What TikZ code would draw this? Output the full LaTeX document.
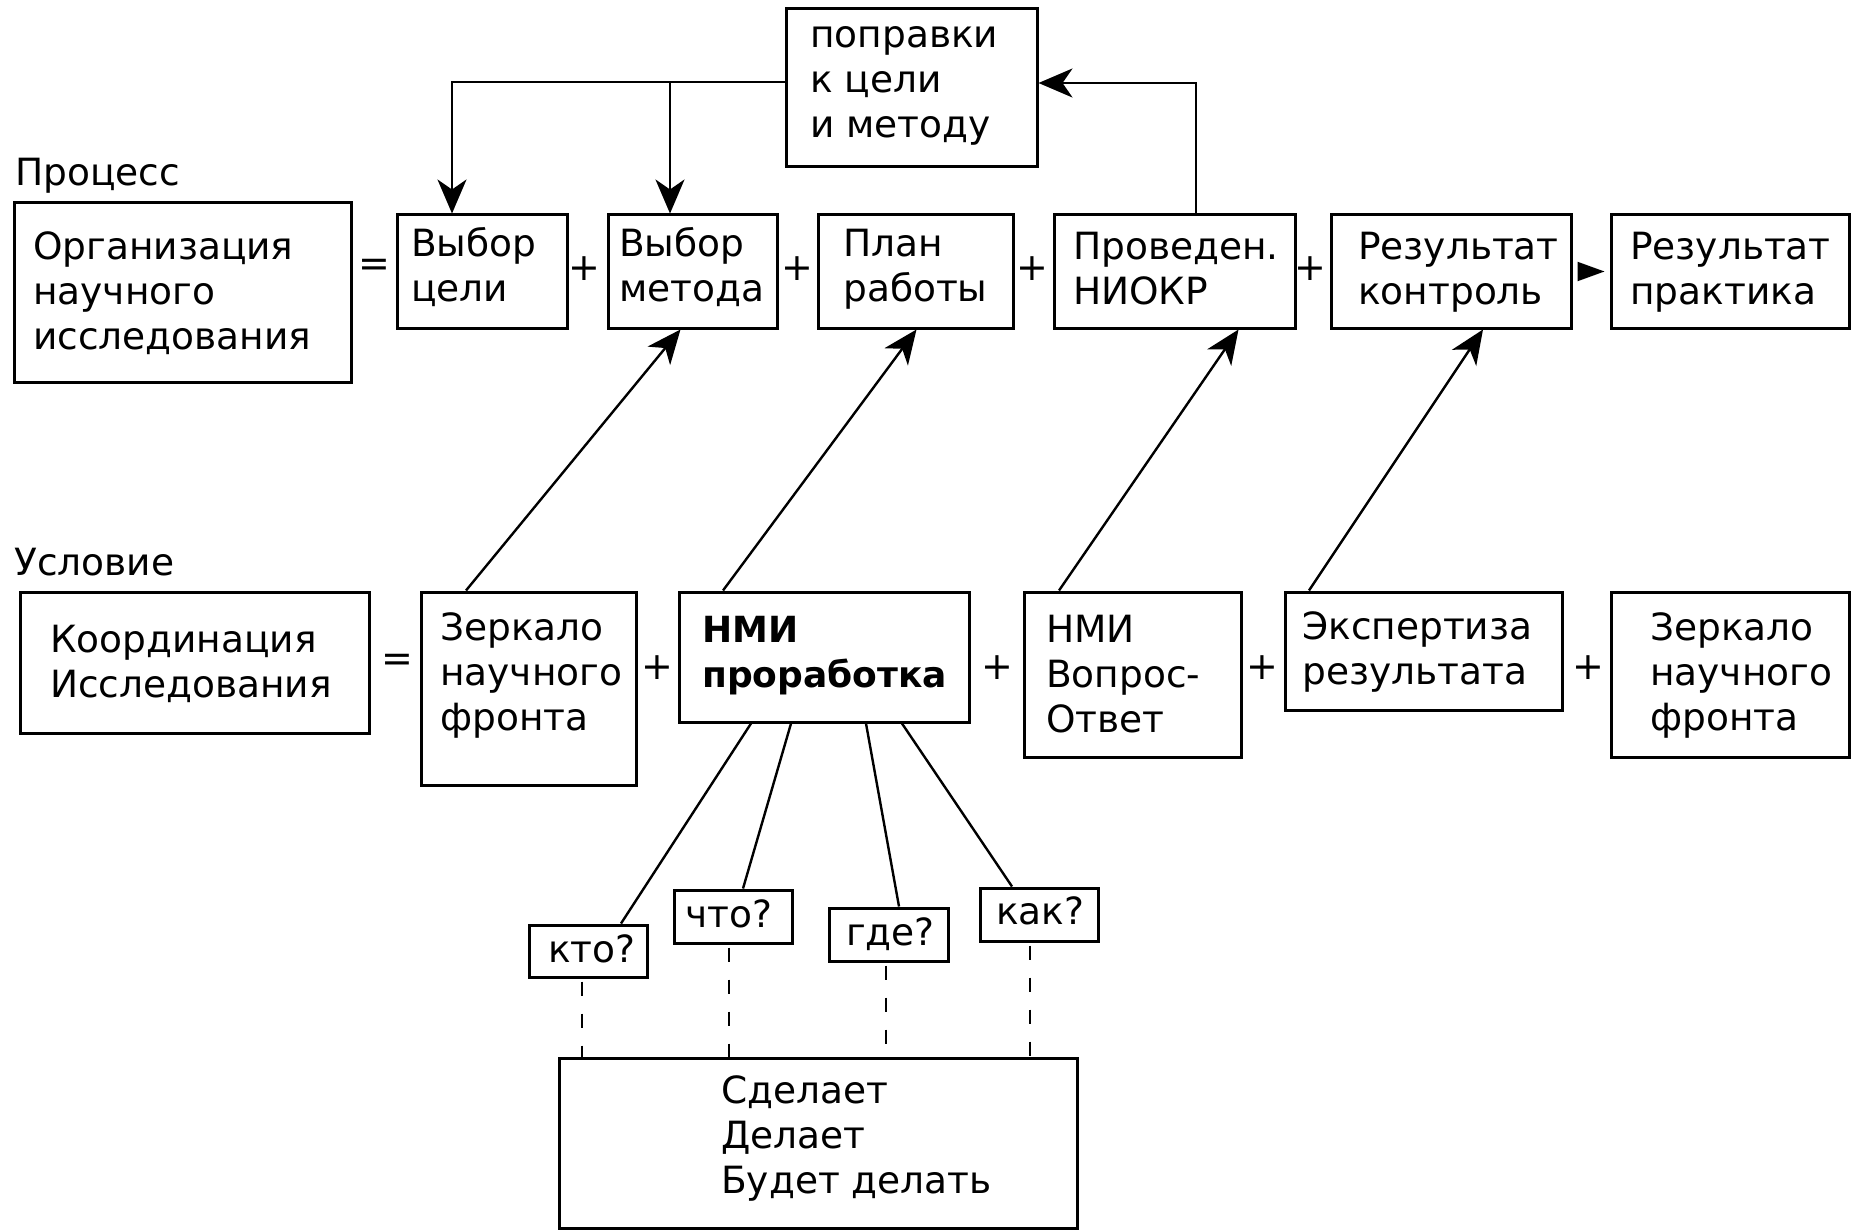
\documentclass[tikz,border=0pt]{standalone}
\usepackage{fontspec}
\setmainfont{DejaVu Sans}
\usetikzlibrary{arrows.meta}
\newcommand\ml[1]{\begin{tabular}[t]{@{}l@{}}#1\end{tabular}}
\begin{document}
\begin{tikzpicture}[x=1pt,y=-1pt,
  box/.style={draw, line width=3pt, inner sep=0pt},
  txt/.style={inner sep=0pt, anchor=base west, font=\fontsize{37.5}{45}\selectfont},
  btxt/.style={inner sep=0pt, anchor=base west, font=\fontsize{36}{45}\selectfont\bfseries},
  op/.style={inner sep=0pt, font=\fontsize{38}{45}\selectfont},
  arr/.style={line width=2.4pt, -{Stealth[length=34pt,width=29pt,inset=10pt]}},
  ln/.style={line width=2.4pt},
  dsh/.style={line width=2.4pt, dash pattern=on 14pt off 18pt}]
\fill[white] (0,0) rectangle (1851,1230);
\useasboundingbox (0,0) rectangle (1851,1230);
% boxes top row
\node[box, minimum width=251pt, minimum height=158pt] (pop) at (911.5,88) {};
\node[box, minimum width=337pt, minimum height=179pt] (org) at (182.5,292.5) {};
\node[box, minimum width=170pt, minimum height=113pt] (vc) at (482,271.5) {};
\node[box, minimum width=169pt, minimum height=113pt] (vm) at (692.5,271.5) {};
\node[box, minimum width=195pt, minimum height=113pt] (plan) at (915.5,271.5) {};
\node[box, minimum width=241pt, minimum height=113pt] (niokr) at (1174.5,271.5) {};
\node[box, minimum width=240pt, minimum height=113pt] (rk) at (1451,271.5) {};
\node[box, minimum width=238pt, minimum height=113pt] (rp) at (1730,271.5) {};
% boxes second row
\node[box, minimum width=349pt, minimum height=141pt] (koord) at (194.5,662.5) {};
\node[box, minimum width=215pt, minimum height=193pt] (zf1) at (528.5,688.5) {};
\node[box, minimum width=290pt, minimum height=130pt] (nmi) at (824,657) {};
\node[box, minimum width=217pt, minimum height=165pt] (nmivo) at (1132.5,674.5) {};
\node[box, minimum width=277pt, minimum height=118pt] (exp) at (1423.5,651) {};
\node[box, minimum width=238pt, minimum height=165pt] (zf2) at (1730,674.5) {};
% question boxes
\node[box, minimum width=118pt, minimum height=52pt] (kto) at (588,951) {};
\node[box, minimum width=118pt, minimum height=53pt] (chto) at (733,916.5) {};
\node[box, minimum width=119pt, minimum height=53pt] (gde) at (888.5,934.5) {};
\node[box, minimum width=118pt, minimum height=53pt] (kak) at (1039,914.5) {};
\node[box, minimum width=518pt, minimum height=170pt] (big) at (818,1143.5) {};
% texts
\node[txt] (pop-t) at (810,48) {\ml{поправки\\к цели\\и методу}};
\node[txt] (proc) at (15,186) {Процесс};
\node[txt] (org-t) at (33,260) {\ml{Организация\\научного\\исследования}};
\node[txt] (vc-t) at (411,257) {\ml{Выбор\\цели}};
\node[txt] (vm-t) at (619,257) {\ml{Выбор\\метода}};
\node[txt] (plan-t) at (843,257) {\ml{План\\работы}};
\node[txt] (niokr-t) at (1073,260) {\ml{Проведен.\\НИОКР}};
\node[txt] (rk-t) at (1358,260) {\ml{Результат\\контроль}};
\node[txt] (rp-t) at (1630,260) {\ml{Результат\\практика}};
\node[txt] (usl) at (14,575) {Условие};
\node[txt] (koord-t) at (50,652) {\ml{Координация\\Исследования}};
\node[txt] (zf1-t) at (440,640) {\ml{Зеркало\\научного\\фронта}};
\node[btxt] (nmi-t) at (702,642) {\ml{НМИ\\проработка}};
\node[txt] (nmivo-t) at (1046,642) {\ml{НМИ\\Вопрос-\\Ответ}};
\node[txt] (exp-t) at (1302,639) {\ml{Экспертиза\\результата}};
\node[txt] (zf2-t) at (1650,640) {\ml{Зеркало\\научного\\фронта}};
\node[txt] (kto-t) at (548,962) {кто?};
\node[txt] (chto-t) at (685,927) {что?};
\node[txt] (gde-t) at (846,945) {где?};
\node[txt] (kak-t) at (996,924) {как?};
\node[txt] (big-t) at (721,1103) {\ml{Сделает\\Делает\\Будет делать}};
% operators
\node[op] (eq1) at (374,268) {=};
\node[op] (p1) at (584,269) {+};
\node[op] (p2) at (797,269) {+};
\node[op] (p3) at (1032,269) {+};
\node[op] (p4) at (1310,269) {+};
\node[op] (eq2) at (397,663) {=};
\node[op] (q1) at (657,668) {+};
\node[op] (q2) at (997,668) {+};
\node[op] (q3) at (1262,668) {+};
\node[op] (q4) at (1588,668) {+};
% result arrow
\draw[line width=2pt, -{Triangle[length=27pt,width=19pt]}, shorten <=8pt, shorten >=5pt] (rk) -- (rp);
% feedback
\draw[arr] ([xshift=21.5pt]niokr.north) |- ([yshift=5pt]pop.east);
\coordinate (popw) at ([yshift=6pt]pop.west);
\draw[arr] (popw) -| ([xshift=-30pt]vc.north);
\coordinate (vmt) at ([xshift=-22.5pt]vm.north);
\draw[arr] (vmt |- popw) -- (vmt);
% diagonals
\draw[arr] ([xshift=-62.5pt]zf1.north) -- ([xshift=-12pt]vm.south);
\draw[arr] ([xshift=-101pt]nmi.north) -- ([xshift=1pt]plan.south);
\draw[arr] ([xshift=-73.5pt]nmivo.north) -- ([xshift=64pt]niokr.south);
\draw[arr] ([xshift=-114.5pt]exp.north) -- ([xshift=32pt]rk.south);
% question lines
\draw[ln] ([xshift=-73pt]nmi.south) -- ([xshift=33pt]kto.north);
\draw[ln] ([xshift=-33pt]nmi.south) -- ([xshift=10pt]chto.north);
\draw[ln] ([xshift=42pt]nmi.south) -- ([xshift=10.5pt]gde.north);
\draw[ln] ([xshift=78pt]nmi.south) -- ([xshift=-27pt]kak.north);
% dashed
\coordinate (d1) at ([xshift=-6pt]kto.south);
\coordinate (d2) at ([xshift=-4pt]chto.south);
\coordinate (d3) at ([xshift=-2.5pt]gde.south);
\coordinate (d4) at ([xshift=-9pt]kak.south);
\draw[dsh, shorten <=3pt] (d1) -- (d1 |- big.north);
\draw[dsh, shorten <=3pt] (d2) -- (d2 |- big.north);
\draw[dsh, shorten <=3pt] (d3) -- (d3 |- big.north);
\draw[dsh, shorten <=3pt] (d4) -- (d4 |- big.north);
\end{tikzpicture}
\end{document}
